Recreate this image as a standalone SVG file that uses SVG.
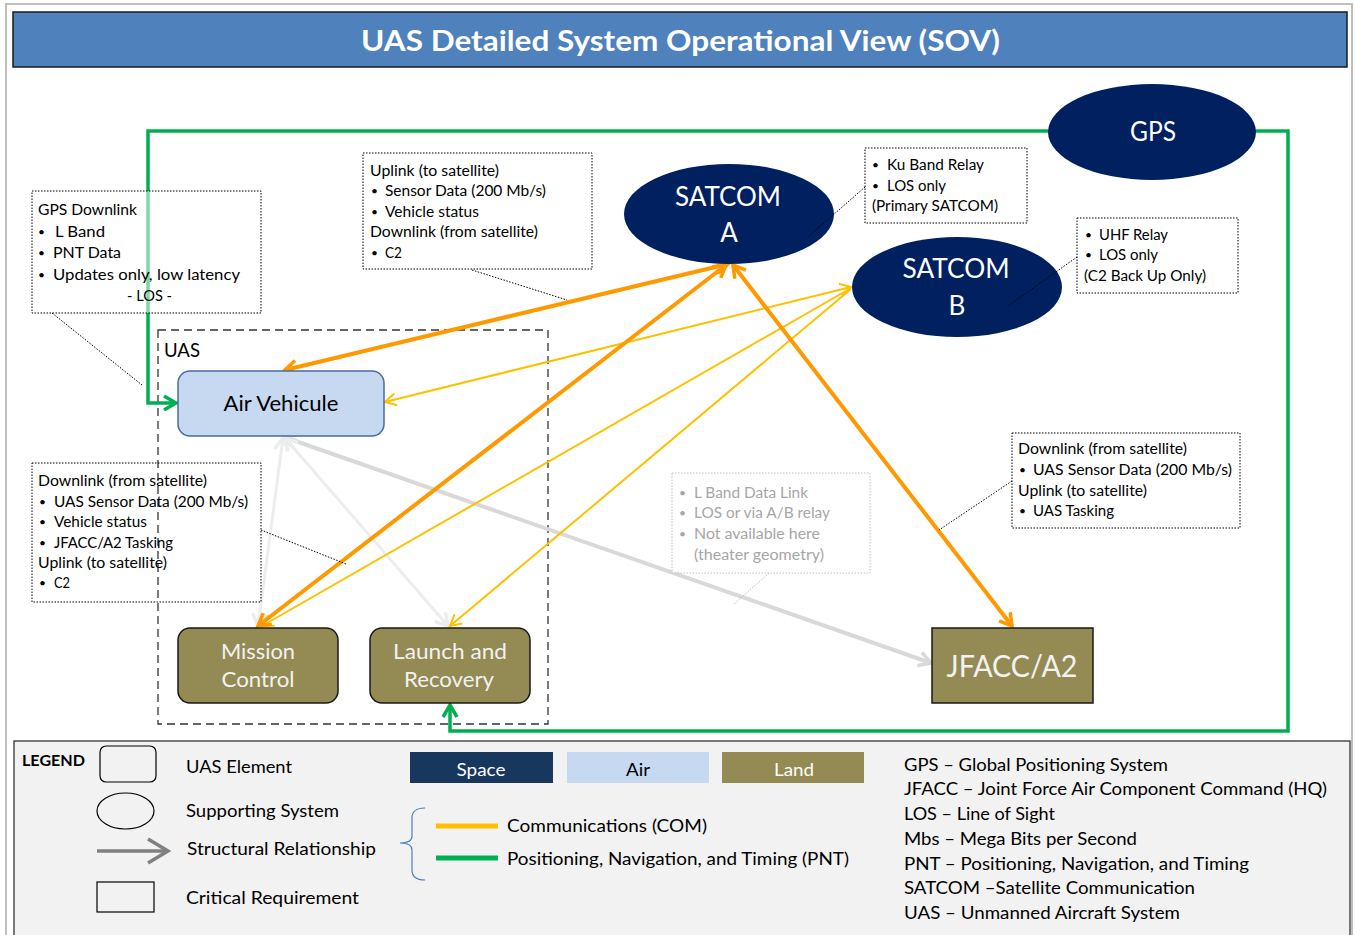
<svg xmlns="http://www.w3.org/2000/svg" width="1355" height="935" viewBox="0 0 1355 935">
<style>
text{font-family:Lato,"Liberation Sans",sans-serif;}
.t{font-size:15.5px;fill:#000;}
.g{font-size:15.5px;fill:#A6A6A6;}
.b{font-size:12px;fill:#000;}
.bg{font-size:12px;fill:#A6A6A6;}
.box{fill:none;stroke:#000;stroke-width:1;stroke-dasharray:1.5,1.5;}
.lead{stroke:#000;stroke-width:1;stroke-dasharray:1.5,1.5;fill:none;}
.sp{fill:#002060;}
.nt{fill:#fff;font-size:26px;text-anchor:middle;}
.land{fill:#948A54;stroke:#1a1a1a;stroke-width:1.5;}
.lt{fill:#F2F2F2;font-size:21px;text-anchor:middle;}
.lg{font-size:17.5px;fill:#000;}
.ab{font-size:17.5px;fill:#000;}
.or{stroke:#FF9900;stroke-width:4;fill:none;marker-start:url(#aO);marker-end:url(#aO);}
.ye{stroke:#FFC000;stroke-width:2;fill:none;}
.gn{stroke:#00B050;stroke-width:3.5;fill:none;}
</style>
<defs>
<marker id="aO" viewBox="0 0 18 18" refX="15" refY="9" markerWidth="18" markerHeight="18" markerUnits="userSpaceOnUse" orient="auto-start-reverse"><path d="M3,2 L15,9 L3,16" fill="none" stroke="#FF9900" stroke-width="3.5"/></marker>
<marker id="aY" viewBox="0 0 16 16" refX="14" refY="8" markerWidth="16" markerHeight="16" markerUnits="userSpaceOnUse" orient="auto-start-reverse"><path d="M3,2 L14,8 L3,14" fill="none" stroke="#FFC000" stroke-width="2"/></marker>
<marker id="aG" viewBox="0 0 18 18" refX="15" refY="9" markerWidth="18" markerHeight="18" markerUnits="userSpaceOnUse" orient="auto-start-reverse"><path d="M3,2 L15,9 L3,16" fill="none" stroke="#D9D9D9" stroke-width="3.5"/></marker>
<marker id="aL" viewBox="0 0 18 18" refX="15" refY="9" markerWidth="18" markerHeight="18" markerUnits="userSpaceOnUse" orient="auto-start-reverse"><path d="M3,2 L15,9 L3,16" fill="none" stroke="#EDEDED" stroke-width="3.5"/></marker>
<marker id="aN" viewBox="0 0 18 18" refX="15" refY="9" markerWidth="18" markerHeight="18" markerUnits="userSpaceOnUse" orient="auto"><path d="M3,2 L15,9 L3,16" fill="none" stroke="#00B050" stroke-width="3.5"/></marker>
<marker id="aK" viewBox="0 0 30 30" refX="26" refY="15" markerWidth="30" markerHeight="30" markerUnits="userSpaceOnUse" orient="auto"><path d="M6,3 L26,15 L6,27" fill="none" stroke="#808080" stroke-width="3.5"/></marker>
</defs>

<rect x="6" y="4" width="1346" height="940" fill="#fff" stroke="#BFBFBF" stroke-width="2"/>

<g id="title">
<rect x="13" y="12" width="1334" height="55" fill="#4F81BD" stroke="#1a1a1a" stroke-width="1.5"/>
<text x="361" y="51" font-size="28" font-weight="bold" fill="#fff" textLength="639" lengthAdjust="spacingAndGlyphs">UAS Detailed System Operational View (SOV)</text>
</g>

<g id="uas-boundary">
<rect x="158" y="330" width="390" height="394" fill="none" stroke="#333" stroke-width="1.3" stroke-dasharray="8,5"/>
<text x="164" y="357" font-size="19" textLength="36" lengthAdjust="spacingAndGlyphs">UAS</text>
</g>

<g id="connectors">
<path class="gn" d="M1050,131 L148,131 L148,403 L176,403" marker-end="url(#aN)"/>
<path class="gn" d="M1255,131 L1288,131 L1288,731 L450,731 L450,705" marker-end="url(#aN)"/>
<line x1="284" y1="437" x2="931" y2="663" stroke="#D9D9D9" stroke-width="4" marker-start="url(#aG)" marker-end="url(#aG)"/>
<line x1="283" y1="438" x2="258" y2="626" stroke="#EDEDED" stroke-width="3" marker-start="url(#aL)" marker-end="url(#aL)"/>
<line x1="285" y1="438" x2="448" y2="626" stroke="#EDEDED" stroke-width="3" marker-start="url(#aL)" marker-end="url(#aL)"/>
<line class="ye" x1="851" y1="287" x2="385" y2="402" marker-start="url(#aY)" marker-end="url(#aY)"/>
<line class="ye" x1="851" y1="288" x2="262" y2="626" marker-end="url(#aY)"/>
<line class="ye" x1="851" y1="289" x2="450" y2="626" marker-end="url(#aY)"/>
<line class="or" x1="728" y1="264" x2="285" y2="370"/>
<line class="or" x1="726" y1="265" x2="258" y2="626"/>
<line class="or" x1="733" y1="265" x2="1012" y2="626"/>
</g>

<g id="gps">
<ellipse class="sp" cx="1152" cy="132" rx="104" ry="48"/>
<text class="nt" x="1153" y="141" textLength="46" lengthAdjust="spacingAndGlyphs">GPS</text>
</g>
<g id="satcom-a">
<ellipse class="sp" cx="729" cy="214" rx="105" ry="50"/>
<text class="nt" x="728" y="206" textLength="106" lengthAdjust="spacingAndGlyphs">SATCOM</text>
<text class="nt" x="729" y="242">A</text>
</g>
<g id="satcom-b">
<ellipse class="sp" cx="957" cy="287" rx="105" ry="50"/>
<text class="nt" x="956" y="278" textLength="107" lengthAdjust="spacingAndGlyphs">SATCOM</text>
<text class="nt" x="957" y="315">B</text>
</g>
<g id="air-vehicule">
<rect x="178" y="371" width="206" height="65" rx="12" fill="#C6D9F1" stroke="#4A6A9E" stroke-width="1.5"/>
<text x="281" y="411" font-size="21" text-anchor="middle" textLength="115" lengthAdjust="spacingAndGlyphs">Air Vehicule</text>
</g>
<g id="mission-control">
<rect class="land" x="178" y="628" width="160" height="75" rx="12"/>
<text class="lt" x="258" y="659" textLength="74" lengthAdjust="spacingAndGlyphs">Mission</text>
<text class="lt" x="258" y="687" textLength="73" lengthAdjust="spacingAndGlyphs">Control</text>
</g>
<g id="launch-recovery">
<rect class="land" x="370" y="628" width="160" height="75" rx="12"/>
<text class="lt" x="450" y="659" textLength="114" lengthAdjust="spacingAndGlyphs">Launch and</text>
<text class="lt" x="449" y="687" textLength="90" lengthAdjust="spacingAndGlyphs">Recovery</text>
</g>
<g id="jfacc">
<rect x="932" y="628" width="161" height="75" fill="#948A54" stroke="#1a1a1a" stroke-width="1.5"/>
<text x="1012" y="677" font-size="30" fill="#F2F2F2" text-anchor="middle" textLength="131" lengthAdjust="spacingAndGlyphs">JFACC/A2</text>
</g>

<g id="note-gps-downlink">
<rect class="box" x="32" y="191" width="229" height="122" style="fill:#fff;fill-opacity:0.5"/>
<line class="lead" x1="52" y1="313" x2="142" y2="385"/>
<text class="t" x="38" y="215" textLength="99" lengthAdjust="spacingAndGlyphs">GPS Downlink</text>
<text class="b" x="38" y="236">•</text><text class="t" x="55" y="237" textLength="50" lengthAdjust="spacingAndGlyphs">L Band</text>
<text class="b" x="38" y="257">•</text><text class="t" x="53" y="258" textLength="68" lengthAdjust="spacingAndGlyphs">PNT Data</text>
<text class="b" x="38" y="279">•</text><text class="t" x="53" y="280" textLength="187" lengthAdjust="spacingAndGlyphs">Updates only, low latency</text>
<text class="t" x="127" y="301" textLength="45" lengthAdjust="spacingAndGlyphs">- LOS -</text>
</g>

<g id="note-uplink">
<rect class="box" x="363" y="153" width="229" height="116" style="fill:#fff"/>
<line class="lead" x1="472" y1="270" x2="567" y2="300"/>
<text class="t" x="370" y="176" textLength="129" lengthAdjust="spacingAndGlyphs">Uplink (to satellite)</text>
<text class="b" x="371" y="195">•</text><text class="t" x="385" y="196" textLength="161" lengthAdjust="spacingAndGlyphs">Sensor Data (200 Mb/s)</text>
<text class="b" x="371" y="216">•</text><text class="t" x="385" y="217" textLength="94" lengthAdjust="spacingAndGlyphs">Vehicle status</text>
<text class="t" x="370" y="237" textLength="168" lengthAdjust="spacingAndGlyphs">Downlink (from satellite)</text>
<text class="b" x="371" y="257">•</text><text class="t" x="385" y="258" textLength="17" lengthAdjust="spacingAndGlyphs">C2</text>
</g>

<g id="note-satcom-a">
<rect class="box" x="865" y="148" width="162" height="75" style="fill:#fff"/>
<line class="lead" x1="865" y1="187" x2="808" y2="237"/>
<text class="b" x="872" y="169">•</text><text class="t" x="887" y="170" textLength="97" lengthAdjust="spacingAndGlyphs">Ku Band Relay</text>
<text class="b" x="872" y="190">•</text><text class="t" x="887" y="191" textLength="59" lengthAdjust="spacingAndGlyphs">LOS only</text>
<text class="t" x="872" y="211" textLength="126" lengthAdjust="spacingAndGlyphs">(Primary SATCOM)</text>
</g>

<g id="note-satcom-b">
<rect class="box" x="1077" y="218" width="161" height="75" style="fill:#fff"/>
<line class="lead" x1="1077" y1="257" x2="1008" y2="306"/>
<text class="b" x="1085" y="239">•</text><text class="t" x="1099" y="240" textLength="69" lengthAdjust="spacingAndGlyphs">UHF Relay</text>
<text class="b" x="1085" y="259">•</text><text class="t" x="1099" y="260" textLength="59" lengthAdjust="spacingAndGlyphs">LOS only</text>
<text class="t" x="1084" y="281" textLength="122" lengthAdjust="spacingAndGlyphs">(C2 Back Up Only)</text>
</g>

<g id="note-downlink-mc">
<rect class="box" x="32" y="463" width="229" height="139"/>
<line class="lead" x1="261" y1="530" x2="346" y2="564"/>
<text class="t" x="38" y="486" textLength="169" lengthAdjust="spacingAndGlyphs">Downlink (from satellite)</text>
<text class="b" x="39" y="506">•</text><text class="t" x="54" y="507" textLength="194" lengthAdjust="spacingAndGlyphs">UAS Sensor Data (200 Mb/s)</text>
<text class="b" x="39" y="526">•</text><text class="t" x="54" y="527" textLength="93" lengthAdjust="spacingAndGlyphs">Vehicle status</text>
<text class="b" x="39" y="547">•</text><text class="t" x="54" y="548" textLength="119" lengthAdjust="spacingAndGlyphs">JFACC/A2 Tasking</text>
<text class="t" x="38" y="568" textLength="129" lengthAdjust="spacingAndGlyphs">Uplink (to satellite)</text>
<text class="b" x="39" y="587">•</text><text class="t" x="54" y="588" textLength="16" lengthAdjust="spacingAndGlyphs">C2</text>
</g>

<g id="note-downlink-jfacc">
<rect class="box" x="1012" y="433" width="228" height="95" style="fill:#fff"/>
<line class="lead" x1="1012" y1="481" x2="939" y2="530"/>
<text class="t" x="1018" y="454" textLength="169" lengthAdjust="spacingAndGlyphs">Downlink (from satellite)</text>
<text class="b" x="1019" y="474">•</text><text class="t" x="1033" y="475" textLength="199" lengthAdjust="spacingAndGlyphs">UAS Sensor Data (200 Mb/s)</text>
<text class="t" x="1018" y="496" textLength="129" lengthAdjust="spacingAndGlyphs">Uplink (to satellite)</text>
<text class="b" x="1019" y="515">•</text><text class="t" x="1033" y="516" textLength="81" lengthAdjust="spacingAndGlyphs">UAS Tasking</text>
</g>

<g id="note-lband">
<rect x="672" y="473" width="198" height="100" fill="#fff" fill-opacity="0.6" stroke="#BFBFBF" stroke-width="1" stroke-dasharray="1.5,1.5"/>
<line x1="769" y1="573" x2="734" y2="604" stroke="#BFBFBF" stroke-width="1" stroke-dasharray="1.5,1.5"/>
<text class="bg" x="679" y="497">•</text><text class="g" x="694" y="498" textLength="114" lengthAdjust="spacingAndGlyphs">L Band Data Link</text>
<text class="bg" x="679" y="517">•</text><text class="g" x="694" y="518" textLength="136" lengthAdjust="spacingAndGlyphs">LOS or via A/B relay</text>
<text class="bg" x="679" y="538">•</text><text class="g" x="694" y="539" textLength="126" lengthAdjust="spacingAndGlyphs">Not available here</text>
<text class="g" x="694" y="560" textLength="130" lengthAdjust="spacingAndGlyphs">(theater geometry)</text>
</g>

<g id="legend">
<rect x="14" y="741" width="1336" height="200" fill="#F2F2F2" stroke="#333" stroke-width="1.3"/>
<text x="22" y="766" font-size="16" font-weight="bold" textLength="63" lengthAdjust="spacingAndGlyphs">LEGEND</text>
<rect x="100" y="746" width="56" height="36" rx="6" fill="none" stroke="#000" stroke-width="1.2"/>
<text class="lg" x="186" y="773" textLength="106" lengthAdjust="spacingAndGlyphs">UAS Element</text>
<ellipse cx="125.5" cy="811" rx="28.5" ry="18" fill="none" stroke="#000" stroke-width="1.2"/>
<text class="lg" x="186" y="817" textLength="153" lengthAdjust="spacingAndGlyphs">Supporting System</text>
<line x1="97" y1="851" x2="168" y2="851" stroke="#808080" stroke-width="3.5" marker-end="url(#aK)"/>
<text class="lg" x="187" y="855" textLength="189" lengthAdjust="spacingAndGlyphs">Structural Relationship</text>
<rect x="97" y="882" width="57" height="30" fill="none" stroke="#000" stroke-width="1.2"/>
<text class="lg" x="186" y="904" textLength="173" lengthAdjust="spacingAndGlyphs">Critical Requirement</text>

<rect x="410" y="752" width="143" height="31" fill="#17375E"/>
<text class="lg" x="481" y="776" style="fill:#fff" text-anchor="middle" textLength="49" lengthAdjust="spacingAndGlyphs">Space</text>
<rect x="567" y="752" width="142" height="31" fill="#C6D9F1"/>
<text class="lg" x="638" y="776" text-anchor="middle" textLength="24" lengthAdjust="spacingAndGlyphs">Air</text>
<rect x="722" y="752" width="142" height="31" fill="#948A54"/>
<text class="lg" x="794" y="776" style="fill:#fff" text-anchor="middle" textLength="40" lengthAdjust="spacingAndGlyphs">Land</text>

<path d="M425,808 Q412,808 412,818 L412,836 Q412,843 400,843 Q412,843 412,850 L412,870 Q412,880 425,880" fill="none" stroke="#4F81BD" stroke-width="1.2"/>
<line x1="436" y1="826" x2="498" y2="826" stroke="#FFC000" stroke-width="5"/>
<text class="lg" x="507" y="832" textLength="200" lengthAdjust="spacingAndGlyphs">Communications (COM)</text>
<line x1="436" y1="858" x2="498" y2="858" stroke="#00B050" stroke-width="5"/>
<text class="lg" x="507" y="865" textLength="342" lengthAdjust="spacingAndGlyphs">Positioning, Navigation, and Timing (PNT)</text>

<text class="ab" x="904" y="771" textLength="264" lengthAdjust="spacingAndGlyphs">GPS – Global Positioning System</text>
<text class="ab" x="904" y="795" textLength="423" lengthAdjust="spacingAndGlyphs">JFACC – Joint Force Air Component Command (HQ)</text>
<text class="ab" x="904" y="820" textLength="151" lengthAdjust="spacingAndGlyphs">LOS – Line of Sight</text>
<text class="ab" x="904" y="845" textLength="233" lengthAdjust="spacingAndGlyphs">Mbs – Mega Bits per Second</text>
<text class="ab" x="904" y="870" textLength="345" lengthAdjust="spacingAndGlyphs">PNT – Positioning, Navigation, and Timing</text>
<text class="ab" x="904" y="894" textLength="291" lengthAdjust="spacingAndGlyphs">SATCOM –Satellite Communication</text>
<text class="ab" x="904" y="919" textLength="276" lengthAdjust="spacingAndGlyphs">UAS – Unmanned Aircraft System</text>
</g>
</svg>
